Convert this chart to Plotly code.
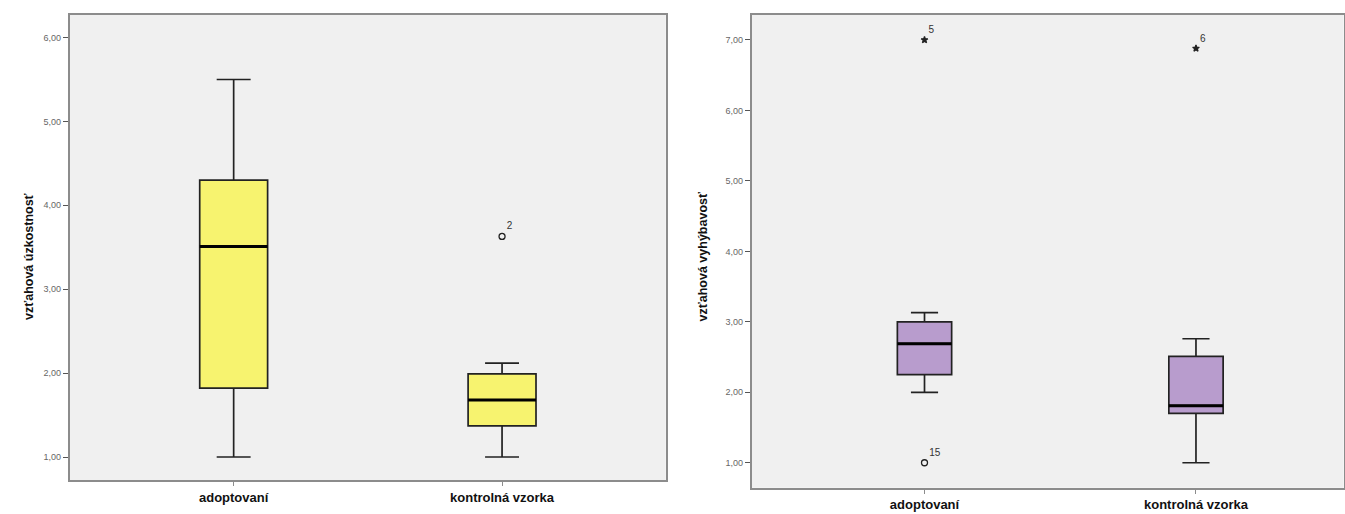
import plotly.graph_objects as go

# Groups compared in both panels
groups = ["adoptovaní", "kontrolná vzorka"]

# Panel 1: vzťahová úzkostnosť — five-number summaries per group
anx_low = [1.00, 1.00]
anx_q1 = [1.82, 1.37]
anx_med = [3.51, 1.68]
anx_q3 = [4.30, 1.99]
anx_high = [5.50, 2.12]
anx_out_x = [1]
anx_out_y = [3.63]
anx_out_lbl = ["2"]

# Panel 2: vzťahová vyhýbavosť — five-number summaries per group
avo_low = [2.00, 1.00]
avo_q1 = [2.25, 1.70]
avo_med = [2.69, 1.81]
avo_q3 = [3.00, 2.51]
avo_high = [3.13, 2.76]
avo_out_x = [0]
avo_out_y = [1.00]
avo_out_lbl = ["15"]
avo_ext_x = [0, 1]
avo_ext_y = [7.00, 6.88]
avo_ext_lbl = ["5", "6"]

FONT = "Liberation Sans, Arial, sans-serif"
PLOT_BG = "#f0f0f0"
FRAME = "#8c8c8c"

fig = go.Figure()


def add_panel(xa, ya, low, q1, med, q3, high, fill, width):
    xs = list(range(len(groups)))
    fig.add_trace(go.Box(
        x=xs, q1=q1, median=med, q3=q3, lowerfence=low, upperfence=high,
        width=width, whiskerwidth=0.5, fillcolor=fill,
        line=dict(color="#222222", width=1.7), boxpoints=False,
        xaxis=xa, yaxis=ya, showlegend=False, hoverinfo="skip",
    ))
    # thicker median bar drawn on top of each box
    for i, m in enumerate(med):
        fig.add_trace(go.Scatter(
            x=[i - width / 2, i + width / 2], y=[m, m], mode="lines",
            line=dict(color="#000000", width=3), xaxis=xa, yaxis=ya,
            showlegend=False, hoverinfo="skip",
        ))


def add_points(xa, ya, xs, ys, labels, symbol, size):
    fig.add_trace(go.Scatter(
        x=xs, y=ys, mode="markers+text", text=labels,
        textposition="top right",
        textfont=dict(family=FONT, size=10, color="#333333"),
        marker=dict(symbol=symbol, size=size, color="#222222",
                    line=dict(color="#222222", width=1.3)),
        xaxis=xa, yaxis=ya, showlegend=False, hoverinfo="skip",
    ))


add_panel("x", "y", anx_low, anx_q1, anx_med, anx_q3, anx_high, "#f7f36f", 0.253)
add_points("x", "y", anx_out_x, anx_out_y, anx_out_lbl, "circle-open", 6)

add_panel("x2", "y2", avo_low, avo_q1, avo_med, avo_q3, avo_high, "#b89ccd", 0.20)
add_points("x2", "y2", avo_out_x, avo_out_y, avo_out_lbl, "circle-open", 6)
add_points("x2", "y2", avo_ext_x, avo_ext_y, avo_ext_lbl, "star", 5)

xaxis_common = dict(
    tickmode="array", tickvals=[0, 1], ticktext=groups,
    ticks="outside", ticklen=4, tickcolor=FRAME,
    showline=True, linecolor=FRAME, linewidth=2, mirror=True,
    showgrid=False, zeroline=False,
    tickfont=dict(family=FONT, size=13, color="#111111", weight="bold"),
)
yaxis_common = dict(
    ticks="outside", ticklen=5, tickcolor="#555555",
    showline=True, linecolor=FRAME, linewidth=2, mirror=True,
    showgrid=False, zeroline=False, dtick=1, tickformat=".2f",
    tickfont=dict(family=FONT, size=9, color="#666666"),
)

fig.update_layout(
    width=1345, height=514,
    margin=dict(l=0, r=0, t=0, b=0),
    paper_bgcolor="#ffffff", plot_bgcolor=PLOT_BG,
    separators=",.",
    xaxis=dict(domain=[0.052, 0.495], range=[-0.61, 1.61], **xaxis_common),
    yaxis=dict(domain=[0.066, 0.971], range=[0.725, 6.27], **yaxis_common),
    xaxis2=dict(domain=[0.559, 0.999], range=[-0.636, 1.544], anchor="y2",
                **xaxis_common),
    yaxis2=dict(domain=[0.051, 0.971], range=[0.645, 7.355], anchor="x2",
                **yaxis_common),
    annotations=[
        dict(text="vzťahová úzkostnosť", x=20 / 1345, y=0.5, xref="paper",
             yref="paper", textangle=-90, showarrow=False,
             font=dict(family=FONT, size=12.5, color="#111111", weight="bold")),
        dict(text="vzťahová vyhýbavosť", x=0.523, y=0.5, xref="paper",
             yref="paper", textangle=-90, showarrow=False,
             font=dict(family=FONT, size=12.5, color="#111111", weight="bold")),
    ],
)

fig.write_html("out.html")
